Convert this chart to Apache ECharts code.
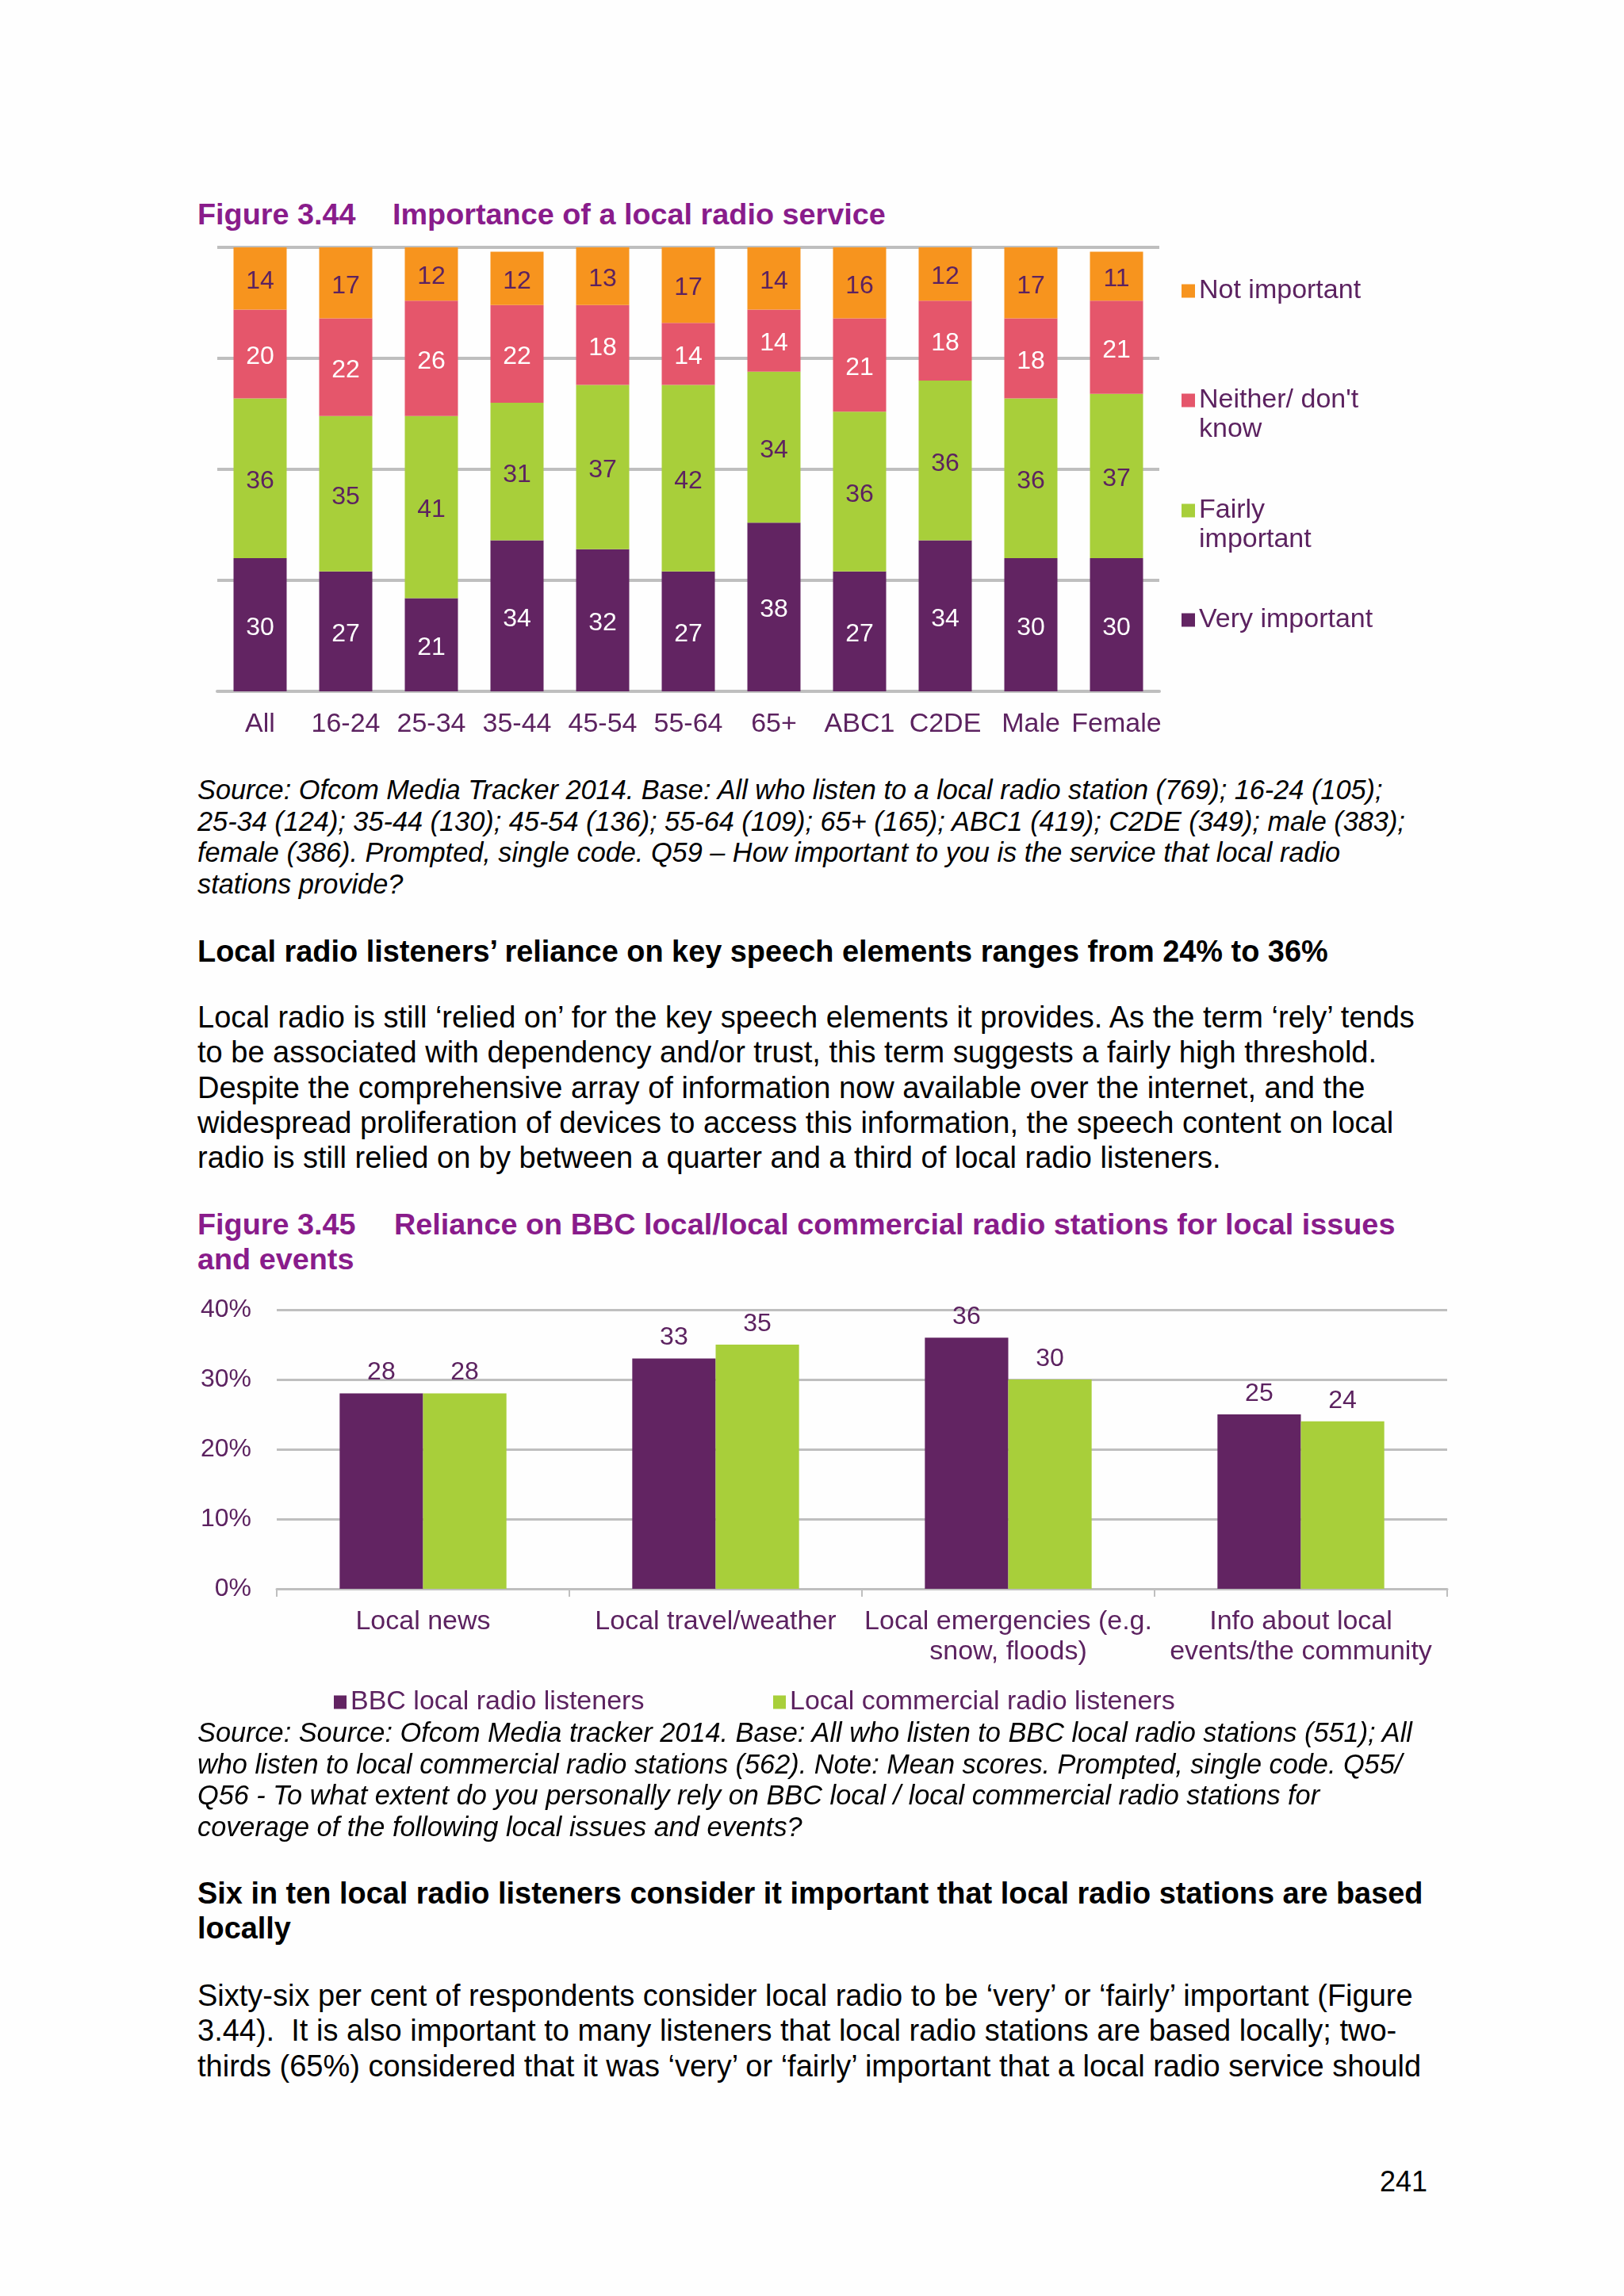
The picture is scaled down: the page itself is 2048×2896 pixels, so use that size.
<!DOCTYPE html>
<html>
<head>
<meta charset="utf-8">
<script src="https://cdn.jsdelivr.net/npm/echarts@6/dist/echarts.min.js"></script>
<style>
  body { margin: 0; background: #fefefe; }
  #page { position: relative; width: 2048px; height: 2896px; font-family: 'Liberation Sans', Arial, sans-serif; color: #000; }
  .blk { position: absolute; left: 249px; white-space: pre; }
  .title { color: #891c8b; font-weight: bold; font-size: 37.8px; line-height: 44px; }
  .src { font-style: italic; font-size: 34.3px; line-height: 39.5px; }
  .head { font-weight: bold; font-size: 37.9px; line-height: 44px; }
  .para { font-size: 38px; line-height: 44.3px; }
  .chart { position: absolute; left: 0; width: 2048px; }
</style>
</head>
<body>
<div id="page">
  <div class="blk title" style="top:248px"><span style="display:inline-block;width:246px">Figure 3.44</span>Importance of a local radio service</div>
  <div id="c1" class="chart" style="top:280px;height:680px"></div>
  <div class="blk src" style="top:977px">Source: Ofcom Media Tracker 2014. Base: All who listen to a local radio station (769); 16-24 (105);
25-34 (124); 35-44 (130); 45-54 (136); 55-64 (109); 65+ (165); ABC1 (419); C2DE (349); male (383);
female (386). Prompted, single code. Q59 – How important to you is the service that local radio
stations provide?</div>
  <div class="blk head" style="top:1178px">Local radio listeners’ reliance on key speech elements ranges from 24% to 36%</div>
  <div class="blk para" style="top:1261px">Local radio is still ‘relied on’ for the key speech elements it provides. As the term ‘rely’ tends
to be associated with dependency and/or trust, this term suggests a fairly high threshold.
Despite the comprehensive array of information now available over the internet, and the
widespread proliferation of devices to access this information, the speech content on local
radio is still relied on by between a quarter and a third of local radio listeners.</div>
  <div class="blk title" style="top:1522px"><span style="display:inline-block;width:248px">Figure 3.45</span>Reliance on BBC local/local commercial radio stations for local issues
and events</div>
  <div id="c2" class="chart" style="top:1620px;height:560px"></div>
  <div class="blk src" style="top:2166px">Source: Source: Ofcom Media tracker 2014. Base: All who listen to BBC local radio stations (551); All
who listen to local commercial radio stations (562). Note: Mean scores. Prompted, single code. Q55/
Q56 - To what extent do you personally rely on BBC local / local commercial radio stations for
coverage of the following local issues and events?</div>
  <div class="blk head" style="top:2366px">Six in ten local radio listeners consider it important that local radio stations are based
locally</div>
  <div class="blk para" style="top:2495px">Sixty-six per cent of respondents consider local radio to be ‘very’ or ‘fairly’ important (Figure
3.44).  It is also important to many listeners that local radio stations are based locally; two-
thirds (65%) considered that it was ‘very’ or ‘fairly’ important that a local radio service should</div>
  <div style="position:absolute;left:1740px;top:2730px;width:58px;text-align:right;font-size:36px;line-height:44px">241</div>
</div>
<script>
// Figure 3.44 data
var groups = ['All', '16-24', '25-34', '35-44', '45-54', '55-64', '65+', 'ABC1', 'C2DE', 'Male', 'Female']
var veryImportant = [30, 27, 21, 34, 32, 27, 38, 27, 34, 30, 30]
var fairlyImportant = [36, 35, 41, 31, 37, 42, 34, 36, 36, 36, 37]
var neitherDontKnow = [20, 22, 26, 22, 18, 14, 14, 21, 18, 18, 21]
var notImportant = [14, 17, 12, 12, 13, 17, 14, 16, 12, 17, 11]
var importanceNames = ['Very important', 'Fairly important', 'Neither/ don\'t know', 'Not important']
var importanceLegend = ['Very important', 'Fairly\nimportant', 'Neither/ don\'t\nknow', 'Not important']

// Figure 3.45 data
var issues = ['Local news', 'Local travel/weather', 'Local emergencies (e.g.\nsnow, floods)', 'Info about local\nevents/the community']
var bbcListeners = [28, 33, 36, 25]
var commercialListeners = [28, 35, 30, 24]
var relianceNames = ['BBC local radio listeners', 'Local commercial radio listeners']
var relianceTicks = [0, 10, 20, 30, 40]

var PURPLE = '#622462'
var GREEN = '#a8cf3a'
var PINK = '#e5566b'
var ORANGE = '#f7941e'
var TEXT = '#5c2260'
var GRID = '#bfbfbf'
var FONT = 'Liberation Sans'

// chart 1 - stacked columns
var chart1 = echarts.init(document.getElementById('c1'))
var stackCols = [veryImportant, fairlyImportant, neitherDontKnow, notImportant]
var stackColors = [PURPLE, GREEN, PINK, ORANGE]
var labelColors = ['#fff', TEXT, '#fff', TEXT]
var legendCenters = [502, 364, 225, 87]

var series1 = stackCols.map(function (vals, i) {
  return {
    name: importanceNames[i],
    type: 'bar',
    stack: 'all',
    barWidth: 67,
    data: vals,
    itemStyle: { color: stackColors[i] },
    label: { show: true, position: 'inside', offset: [0, 4], color: labelColors[i], fontSize: 32, fontFamily: FONT }
  }
})
// one legend per item so the two-line names line up like the original
var legends1 = importanceNames.map(function (n, i) {
  var lines = importanceLegend[i].split('\n').length
  return {
    data: [n],
    left: 1490,
    top: legendCenters[i] - 18.5 - (lines > 1 ? 37 : 0),
    padding: 0,
    itemWidth: 17,
    itemHeight: 17,
    icon: 'rect',
    selectedMode: false,
    formatter: function () { return lines > 1 ? ' \n' + importanceLegend[i] : importanceLegend[i] },
    textStyle: { color: TEXT, fontSize: 34, lineHeight: 37, fontFamily: FONT }
  }
})

chart1.setOption({
  animation: false,
  legend: legends1,
  grid: { left: 274, top: 32, width: 1188, height: 560 },
  xAxis: {
    type: 'category',
    data: groups,
    axisLine: { lineStyle: { color: GRID, width: 4 } },
    axisTick: { show: false },
    axisLabel: { color: TEXT, fontSize: 34, fontFamily: FONT, margin: 25, interval: 0 }
  },
  yAxis: {
    type: 'value',
    min: 0,
    max: 100,
    interval: 25,
    axisLabel: { show: false },
    axisLine: { show: false },
    splitLine: { lineStyle: { color: GRID, width: 4 } }
  },
  series: series1
})

// chart 2 - grouped columns
var chart2 = echarts.init(document.getElementById('c2'))
var cols2 = [bbcListeners, commercialListeners]
var colors2 = [PURPLE, GREEN]
var legendLeft2 = [421, 975]

chart2.setOption({
  animation: false,
  legend: relianceNames.map(function (n, i) {
    return {
      data: [n],
      left: legendLeft2[i],
      top: 527 - 18,
      padding: 0,
      itemWidth: 16,
      itemHeight: 17,
      icon: 'rect',
      selectedMode: false,
      textStyle: { color: TEXT, fontSize: 34, lineHeight: 36, fontFamily: FONT }
    }
  }),
  grid: { left: 349, top: 32, width: 1476, height: 352 },
  xAxis: {
    type: 'category',
    data: issues,
    axisLine: { lineStyle: { color: GRID, width: 3 } },
    axisTick: { show: true, length: 10, lineStyle: { color: GRID, width: 2 } },
    axisLabel: { color: TEXT, fontSize: 34, lineHeight: 38, fontFamily: FONT, margin: 23, interval: 0 }
  },
  yAxis: {
    type: 'value',
    min: relianceTicks[0],
    max: relianceTicks[relianceTicks.length - 1],
    interval: relianceTicks[1] - relianceTicks[0],
    axisLabel: { color: TEXT, fontSize: 32, fontFamily: FONT, margin: 32, formatter: '{value}%' },
    axisLine: { show: false },
    splitLine: { lineStyle: { color: GRID, width: 3 } }
  },
  series: cols2.map(function (vals, i) {
    return {
      name: relianceNames[i],
      type: 'bar',
      barGap: '0%',
      barCategoryGap: '43%',
      data: vals,
      itemStyle: { color: colors2[i] },
      label: { show: true, position: 'top', distance: 10, color: TEXT, fontSize: 32, fontFamily: FONT }
    }
  })
})
</script>
</body>
</html>
